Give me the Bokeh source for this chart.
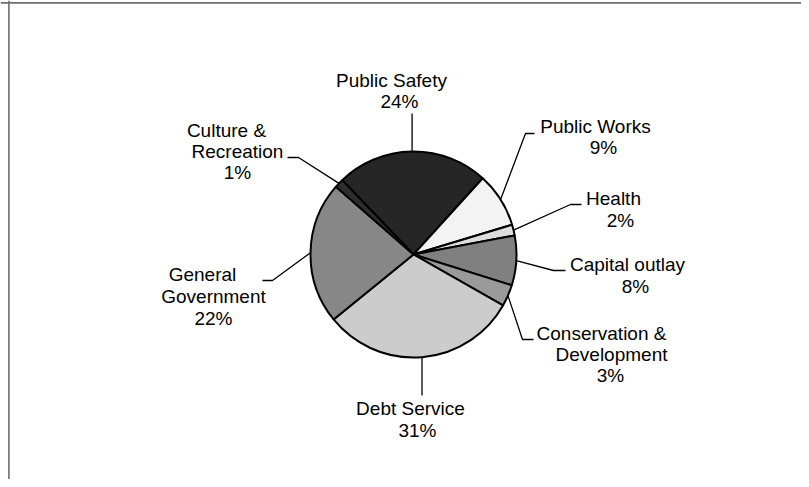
import math
from bokeh.plotting import figure
from bokeh.models import Range1d, Span
from bokeh.core.properties import value
from bokeh.embed import file_html
from bokeh.resources import INLINE

# ---- data ----
categories = ["Public Safety", "Public Works", "Health", "Capital outlay",
              "Conservation & Development", "Debt Service", "General Government",
              "Culture & Recreation"]
shares = [23.9, 8.6, 1.7, 7.8, 3.4, 30.9, 22.3, 1.4]
colors = ["#262626", "#f3f3f3", "#dedede", "#808080", "#9a9a9a", "#cccccc",
          "#878787", "#2e2e2e"]

# ---- layout (pixel coordinates within the picture) ----
H, W = 479, 801
TEXT_DY = -7


def Y(py):
    return H - py


CX, CY, R = 413, 254, 103
START_DEG = 133.8

# words per text line (before the percent line), line centres/baselines, leader path
layout = {
    "Public Safety": dict(words=[2], pos=[(391, 87), (399, 108)],
                          leader=[(None, 113)]),
    "Public Works": dict(words=[2], pos=[(595, 133), (603, 154)],
                         leader=[(525, 133), (534, 133)]),
    "Health": dict(words=[1], pos=[(613, 205), (620, 227)],
                   leader=[(570, 204), (581, 204)]),
    "Capital outlay": dict(words=[2], pos=[(627, 271), (635, 293)],
                           leader=[(553, 270), (565, 270)]),
    "Conservation & Development": dict(words=[2, 1],
                                       pos=[(601, 340), (611, 361), (610, 382)],
                                       leader=[(522, 339), (533, 339)]),
    "Debt Service": dict(words=[2], pos=[(410, 415), (417, 437)],
                         leader=[(None, 395)]),
    "General Government": dict(words=[1, 1],
                               pos=[(202, 281), (213, 303), (213, 325)],
                               leader=[(272, 280), (262, 280)]),
    "Culture & Recreation": dict(words=[2, 1],
                                 pos=[(226, 137), (237, 158), (237, 179)],
                                 leader=[(298, 157), (287, 157)]),
}

p = figure(width=W, height=H, x_range=Range1d(0, W),
           y_range=Range1d(0, H), output_backend="svg", toolbar_location=None,
           x_axis_location=None, y_axis_location=None, min_border=0)
p.grid.visible = False
p.outline_line_color = None
p.background_fill_color = "white"
p.border_fill_color = "white"

# wedges (clockwise from START_DEG)
total = sum(shares)
starts, ends, mids = [], [], []
a = math.radians(START_DEG)
for v in shares:
    sweep = 2 * math.pi * v / total
    ends.append(a)
    starts.append(a - sweep)
    mids.append(a - sweep / 2)
    a -= sweep

p.wedge(x=CX, y=Y(CY), radius=R, start_angle=starts, end_angle=ends,
        fill_color=colors, line_color="black", line_width=2)

# leaders and labels
lxs, lys = [], []
tx, ty, tt = [], [], []
for name, v, m in zip(categories, shares, mids):
    lay = layout[name]
    ex, ey = CX + R * math.cos(m), CY - R * math.sin(m)
    xs, ys = [ex], [Y(ey)]
    for (px, py) in lay["leader"]:
        xs.append(ex if px is None else px)
        ys.append(Y(py))
    lxs.append(xs)
    lys.append(ys)
    words = name.split(" ")
    lines, i = [], 0
    for n in lay["words"]:
        lines.append(" ".join(words[i:i + n]))
        i += n
    lines.append(f"{round(v)}%")
    for line, (px, py) in zip(lines, lay["pos"]):
        tx.append(px)
        ty.append(Y(py + TEXT_DY))
        tt.append(line)

p.multi_line(xs=lxs, ys=lys, line_color="black", line_width=1.3)
p.text(x=tx, y=ty, text=tt, text_align="center", text_baseline="alphabetic",
       text_font=value("Liberation Sans"), text_font_size="19px",
       text_color="black")

# frame borders (top and left)
p.add_layout(Span(location=8.4, dimension="height", line_color="#6e6e6e",
                  line_width=1.6))
p.add_layout(Span(location=Y(2.4), dimension="width", line_color="#6e6e6e",
                  line_width=1.6))

open("out.html", "w").write(file_html(p, INLINE))
